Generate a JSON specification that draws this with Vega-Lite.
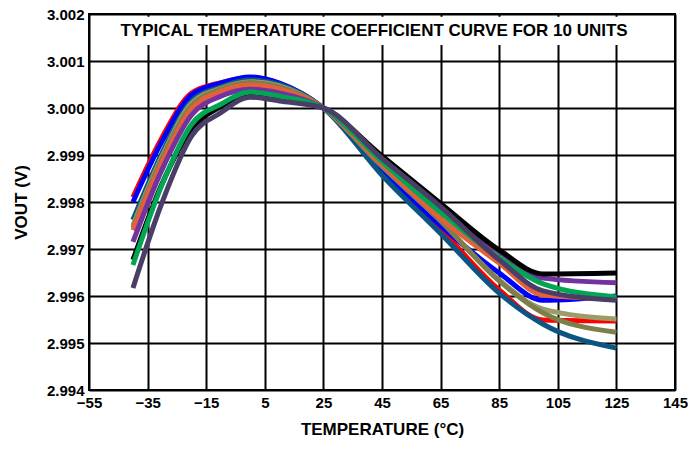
{
  "$schema": "https://vega.github.io/schema/vega-lite/v6.json",
  "width": 586,
  "height": 376,
  "autosize": {"type": "none"},
  "padding": {"left": 89, "top": 14, "right": 13, "bottom": 59},
  "background": "white",
  "config": {
    "view": {"stroke": "black", "strokeWidth": 2},
    "font": "Liberation Sans",
    "axis": {
      "grid": true,
      "gridColor": "black",
      "gridWidth": 2,
      "gridOpacity": 1,
      "domain": false,
      "ticks": false,
      "labelFont": "Liberation Sans",
      "labelFontWeight": "bold",
      "labelFontSize": 15,
      "labelColor": "black",
      "labelPadding": 5,
      "titleFont": "Liberation Sans",
      "titleFontWeight": "bold",
      "titleFontSize": 17,
      "titleColor": "black"
    }
  },
  "encoding": {
    "x": {
      "field": "T",
      "type": "quantitative",
      "scale": {"domain": [-55, 145], "nice": false, "zero": false},
      "axis": {
        "values": [-55, -35, -15, 5, 25, 45, 65, 85, 105, 125, 145],
        "title": "TEMPERATURE (°C)",
        "titlePadding": 11,
        "labelFlush": false
      }
    },
    "y": {
      "field": "V",
      "type": "quantitative",
      "scale": {"domain": [2.994, 3.002], "nice": false, "zero": false},
      "axis": {
        "values": [2.994, 2.995, 2.996, 2.997, 2.998, 2.999, 3.0, 3.001, 3.002],
        "format": ".3f",
        "title": "VOUT (V)",
        "titlePadding": 16,
        "labelFlush": false
      }
    }
  },
  "layer": [
    {
      "data": {"values": [{"T": -48, "T2": 137, "V": 3.00134, "V2": 3.00194}]},
      "mark": {"type": "rect", "fill": "white", "stroke": null},
      "encoding": {
        "x2": {"field": "T2"},
        "y2": {"field": "V2"}
      }
    },
    {
      "data": {"values": [
        {"unit": "U1", "T": -40, "V": 2.99810}, {"unit": "U1", "T": -30, "V": 2.99938}, {"unit": "U1", "T": -20, "V": 3.00032}, {"unit": "U1", "T": -10, "V": 3.00054}, {"unit": "U1", "T": 0, "V": 3.00065}, {"unit": "U1", "T": 10, "V": 3.00052}, {"unit": "U1", "T": 25, "V": 3.00000}, {"unit": "U1", "T": 45, "V": 2.99864}, {"unit": "U1", "T": 65, "V": 2.99742}, {"unit": "U1", "T": 85, "V": 2.99613}, {"unit": "U1", "T": 100, "V": 2.99549}, {"unit": "U1", "T": 125, "V": 2.99547},
        {"unit": "U2", "T": -40, "V": 2.99800}, {"unit": "U2", "T": -30, "V": 2.99930}, {"unit": "U2", "T": -20, "V": 3.00028}, {"unit": "U2", "T": -10, "V": 3.00053}, {"unit": "U2", "T": 0, "V": 3.00066}, {"unit": "U2", "T": 10, "V": 3.00053}, {"unit": "U2", "T": 25, "V": 3.00000}, {"unit": "U2", "T": 45, "V": 2.99868}, {"unit": "U2", "T": 65, "V": 2.99750}, {"unit": "U2", "T": 85, "V": 2.99649}, {"unit": "U2", "T": 100, "V": 2.99591}, {"unit": "U2", "T": 125, "V": 2.99600},
        {"unit": "U3", "T": -40, "V": 2.99762}, {"unit": "U3", "T": -30, "V": 2.99905}, {"unit": "U3", "T": -20, "V": 3.00015}, {"unit": "U3", "T": -10, "V": 3.00045}, {"unit": "U3", "T": 0, "V": 3.00060}, {"unit": "U3", "T": 10, "V": 3.00050}, {"unit": "U3", "T": 25, "V": 3.00000}, {"unit": "U3", "T": 45, "V": 2.99857}, {"unit": "U3", "T": 65, "V": 2.99733}, {"unit": "U3", "T": 85, "V": 2.99606}, {"unit": "U3", "T": 100, "V": 2.99540}, {"unit": "U3", "T": 125, "V": 2.99489},
        {"unit": "U4", "T": -40, "V": 2.99750}, {"unit": "U4", "T": -30, "V": 2.99898}, {"unit": "U4", "T": -20, "V": 3.00010}, {"unit": "U4", "T": -10, "V": 3.00042}, {"unit": "U4", "T": 0, "V": 3.00056}, {"unit": "U4", "T": 10, "V": 3.00047}, {"unit": "U4", "T": 25, "V": 3.00000}, {"unit": "U4", "T": 45, "V": 2.99876}, {"unit": "U4", "T": 65, "V": 2.99760}, {"unit": "U4", "T": 85, "V": 2.99634}, {"unit": "U4", "T": 100, "V": 2.99572}, {"unit": "U4", "T": 125, "V": 2.99551},
        {"unit": "U5", "T": -40, "V": 2.99745}, {"unit": "U5", "T": -30, "V": 2.99893}, {"unit": "U5", "T": -20, "V": 3.00005}, {"unit": "U5", "T": -10, "V": 3.00040}, {"unit": "U5", "T": 0, "V": 3.00054}, {"unit": "U5", "T": 10, "V": 3.00045}, {"unit": "U5", "T": 25, "V": 3.00000}, {"unit": "U5", "T": 45, "V": 2.99876}, {"unit": "U5", "T": 65, "V": 2.99760}, {"unit": "U5", "T": 85, "V": 2.99632}, {"unit": "U5", "T": 100, "V": 2.99564}, {"unit": "U5", "T": 125, "V": 2.99523},
        {"unit": "U6", "T": -40, "V": 2.99740}, {"unit": "U6", "T": -30, "V": 2.99885}, {"unit": "U6", "T": -20, "V": 2.99998}, {"unit": "U6", "T": -10, "V": 3.00035}, {"unit": "U6", "T": 0, "V": 3.00049}, {"unit": "U6", "T": 10, "V": 3.00040}, {"unit": "U6", "T": 25, "V": 3.00000}, {"unit": "U6", "T": 45, "V": 2.99880}, {"unit": "U6", "T": 65, "V": 2.99765}, {"unit": "U6", "T": 85, "V": 2.99670}, {"unit": "U6", "T": 100, "V": 2.99602}, {"unit": "U6", "T": 125, "V": 2.99594},
        {"unit": "U7", "T": -40, "V": 2.99715}, {"unit": "U7", "T": -30, "V": 2.99870}, {"unit": "U7", "T": -20, "V": 2.99985}, {"unit": "U7", "T": -10, "V": 3.00025}, {"unit": "U7", "T": 0, "V": 3.00040}, {"unit": "U7", "T": 10, "V": 3.00032}, {"unit": "U7", "T": 25, "V": 3.00000}, {"unit": "U7", "T": 45, "V": 2.99890}, {"unit": "U7", "T": 65, "V": 2.99785}, {"unit": "U7", "T": 85, "V": 2.99694}, {"unit": "U7", "T": 100, "V": 2.99638}, {"unit": "U7", "T": 125, "V": 2.99628},
        {"unit": "U8", "T": -40, "V": 2.99677}, {"unit": "U8", "T": -30, "V": 2.99840}, {"unit": "U8", "T": -20, "V": 2.99955}, {"unit": "U8", "T": -10, "V": 3.00003}, {"unit": "U8", "T": 0, "V": 3.00030}, {"unit": "U8", "T": 10, "V": 3.00022}, {"unit": "U8", "T": 25, "V": 3.00000}, {"unit": "U8", "T": 45, "V": 2.99898}, {"unit": "U8", "T": 65, "V": 2.99797}, {"unit": "U8", "T": 85, "V": 2.99698}, {"unit": "U8", "T": 100, "V": 2.99647}, {"unit": "U8", "T": 125, "V": 2.99649},
        {"unit": "U9", "T": -40, "V": 2.99666}, {"unit": "U9", "T": -30, "V": 2.99838}, {"unit": "U9", "T": -20, "V": 2.99965}, {"unit": "U9", "T": -10, "V": 3.00008}, {"unit": "U9", "T": 0, "V": 3.00034}, {"unit": "U9", "T": 10, "V": 3.00025}, {"unit": "U9", "T": 25, "V": 3.00000}, {"unit": "U9", "T": 45, "V": 2.99886}, {"unit": "U9", "T": 65, "V": 2.99778}, {"unit": "U9", "T": 85, "V": 2.99681}, {"unit": "U9", "T": 100, "V": 2.99626}, {"unit": "U9", "T": 125, "V": 2.99598},
        {"unit": "U10", "T": -40, "V": 2.99617}, {"unit": "U10", "T": -30, "V": 2.99800}, {"unit": "U10", "T": -20, "V": 2.99940}, {"unit": "U10", "T": -10, "V": 2.99990}, {"unit": "U10", "T": 0, "V": 3.00023}, {"unit": "U10", "T": 10, "V": 3.00015}, {"unit": "U10", "T": 25, "V": 3.00000}, {"unit": "U10", "T": 45, "V": 2.99893}, {"unit": "U10", "T": 65, "V": 2.99790}, {"unit": "U10", "T": 85, "V": 2.99677}, {"unit": "U10", "T": 100, "V": 2.99611}, {"unit": "U10", "T": 125, "V": 2.99591}
      ]},
      "mark": {"type": "line", "interpolate": "monotone", "strokeWidth": 5, "strokeCap": "butt"},
      "encoding": {
        "color": {
          "field": "unit",
          "type": "nominal",
          "scale": {
            "domain": ["U1", "U2", "U3", "U8", "U7", "U9", "U10", "U4", "U5", "U6"],
            "range": ["#ff0000", "#0000ff", "#0b5583", "#000000", "#7232a0", "#00a651", "#4a3d68", "#9c9c68", "#7d7e4c", "#e3603a"]
          },
          "legend": null
        },
        "order": {"field": "T", "type": "quantitative"}
      }
    },
    {
      "data": {"values": [{"T": 42.3, "V": 3.00164, "label": "TYPICAL TEMPERATURE COEFFICIENT CURVE FOR 10 UNITS"}]},
      "mark": {"type": "text", "font": "Liberation Sans", "fontWeight": "bold", "fontSize": 17, "color": "black", "align": "center", "baseline": "middle"},
      "encoding": {"text": {"field": "label"}}
    }
  ]
}
